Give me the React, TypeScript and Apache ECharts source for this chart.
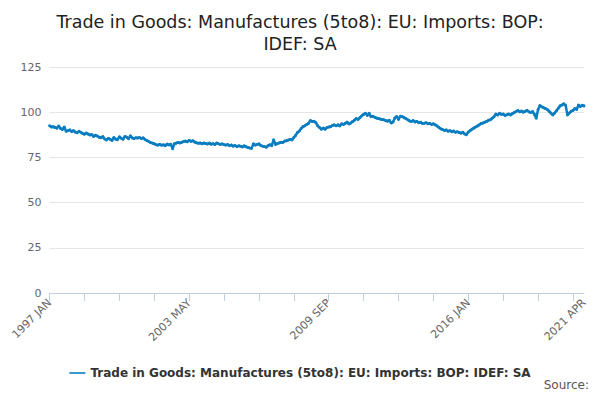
import React, { useEffect, useRef } from "react";
import * as echarts from "echarts";

const years = Array.from({ length: 25 }, (_, i) => 1997 + i);
const months = ["JAN", "FEB", "MAR", "APR", "MAY", "JUN", "JUL", "AUG", "SEP", "OCT", "NOV", "DEC"];
const values: number[] = [
  92.5,91.8,92.0,91.5,91.2,92.3,91.0,90.5,91.8,89.5,89.8,90.2,
  89.3,89.8,89.0,88.6,89.4,88.9,88.2,87.8,88.5,87.9,87.4,87.6,
  86.6,87.2,86.8,86.1,85.9,86.5,85.2,84.7,85.5,85.0,84.4,86.0,
  85.1,84.8,86.4,85.6,85.0,86.6,86.2,85.3,87.0,85.8,85.5,85.9,
  85.7,86.0,85.4,85.8,84.9,84.3,83.8,83.2,82.9,82.5,82.0,81.8,
  82.2,81.7,82.0,81.5,82.4,81.9,82.3,79.8,82.6,82.9,83.2,83.0,
  83.4,83.8,84.0,83.6,84.4,83.9,84.2,83.5,83.1,82.8,83.0,82.6,
  83.0,82.7,82.4,82.9,82.3,82.6,82.1,83.0,82.5,82.2,82.5,82.0,
  81.8,82.1,81.5,81.9,81.2,81.6,81.0,81.4,81.2,80.8,81.4,80.9,
  80.5,80.2,80.0,82.5,81.8,82.1,82.5,81.6,81.2,81.0,80.6,81.5,
  82.0,81.5,84.8,82.2,82.6,83.0,83.4,83.2,84.0,84.2,84.6,84.9,
  84.7,86.0,87.2,88.8,89.6,91.0,92.0,92.5,93.2,93.8,95.4,94.9,
  95.0,94.2,92.5,91.5,90.6,91.2,90.6,91.5,91.8,92.0,92.6,93.0,
  92.5,93.0,92.4,93.6,93.2,93.8,94.5,93.5,94.0,94.8,95.6,96.5,
  96.0,97.0,98.0,98.8,99.4,98.2,99.4,97.6,97.8,97.2,96.8,96.5,
  96.2,96.0,95.8,95.4,95.0,95.5,94.0,94.6,96.8,97.6,96.0,97.8,
  97.6,97.0,96.5,95.8,95.2,94.9,95.4,94.6,94.9,94.2,94.5,93.8,
  93.9,94.2,93.6,93.8,93.2,93.6,93.0,92.4,91.5,90.8,90.4,89.9,
  90.2,89.5,89.8,89.2,89.6,88.9,89.2,88.8,88.4,88.9,88.0,87.6,
  89.0,89.8,90.6,91.2,91.8,92.4,93.0,93.8,94.0,94.5,94.9,95.5,
  95.8,96.7,97.5,99.0,98.4,99.4,98.8,99.0,98.2,98.6,99.0,98.5,
  99.2,99.8,100.4,100.9,100.2,100.6,100.0,100.5,101.0,100.2,99.8,100.4,
  98.8,96.7,101.5,103.7,103.0,102.5,102.0,101.5,100.5,99.5,98.5,99.5,
  100.8,102.2,103.5,104.0,104.6,103.8,98.5,99.5,100.5,101.0,102.0,101.5,
  104.0,103.2,103.8,103.5,
];
const categories = values.map((_, i) => `${years[Math.floor(i / 12)]} ${months[i % 12]}`);
const seriesName = "Trade in Goods: Manufactures (5to8): EU: Imports: BOP: IDEF: SA";
const yTicks = [0, 25, 50, 75, 100, 125];

export default function App() {
  const ref = useRef<HTMLDivElement>(null);
  useEffect(() => {
    const chart = echarts.init(ref.current!, undefined, { renderer: "svg" });
    const last = categories.length - 1;
    chart.setOption({
      animation: false,
      title: {
        text: "Trade in Goods: Manufactures (5to8): EU: Imports: BOP:\nIDEF: SA",
        left: "center",
        top: -2,
        textStyle: { fontFamily: "DejaVu Sans", fontSize: 17.5, fontWeight: "normal", color: "#222", lineHeight: 22 },
      },
      grid: { left: 38, right: 8, top: 59, bottom: 99 },
      legend: {
        bottom: 8,
        icon: "path://M0,4 L20,4 L20,6 L0,6 Z",
        itemWidth: 16,
        itemHeight: 4,
        textStyle: { fontFamily: "DejaVu Sans", fontSize: 12, fontWeight: "bold", color: "#333" },
        data: [seriesName],
      },
      graphic: [
        { type: "text", right: 3, bottom: 1, style: { text: "Source:", fontFamily: "DejaVu Sans", fontSize: 12, fill: "#555" } },
      ],
      xAxis: {
        type: "category",
        data: categories,
        boundaryGap: false,
        axisLine: { lineStyle: { color: "#c0d0e0" } },
        axisTick: { interval: 18, length: 8, lineStyle: { color: "#c0d0e0" } },
        axisLabel: {
          interval: (i: number) => i % 76 === 0 || i === last,
          rotate: 45,
          color: "#666",
          fontFamily: "DejaVu Sans",
          fontSize: 11,
        },
      },
      yAxis: {
        type: "value",
        min: yTicks[0],
        max: yTicks[yTicks.length - 1],
        interval: 25,
        axisLabel: { color: "#666", fontFamily: "DejaVu Sans", fontSize: 11 },
        splitLine: { lineStyle: { color: "#e6e6e6" } },
      },
      series: [
        {
          name: seriesName,
          type: "line",
          data: values,
          color: "#0b7dc1",
          symbol: "circle",
          symbolSize: 3,
          showSymbol: true,
          showAllSymbol: true,
          lineStyle: { width: 2.5 },
        },
      ],
    });
    return () => chart.dispose();
  }, []);
  return <div ref={ref} style={{ width: 584, height: 384 }} />;
}
